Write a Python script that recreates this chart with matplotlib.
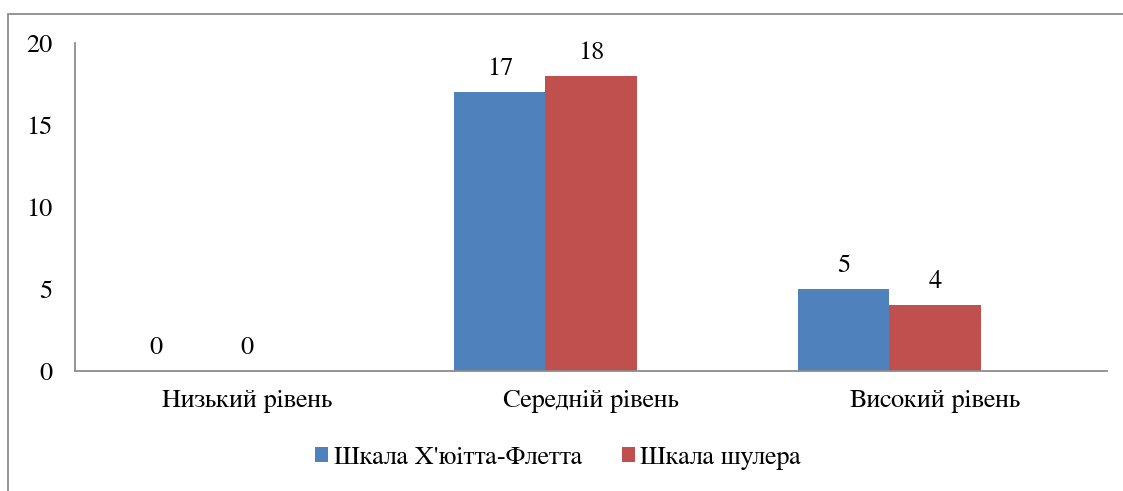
import matplotlib
matplotlib.use("Agg")
import matplotlib.pyplot as plt
import numpy as np
from matplotlib.patches import Rectangle
from matplotlib import font_manager as fm

categories = ["Низький рівень", "Середній рівень", "Високий рівень"]
series_names = ["Шкала Х'юітта-Флетта", "Шкала шулера"]
hewitt = [0, 17, 5]
shuler = [0, 18, 4]
colors = ["#4F81BD", "#C0504D"]

FS = 19
path = None
for f in fm.fontManager.ttflist:
    if f.fname.endswith("FreeSerif.ttf"):
        path = f.fname
        break
if path is None:
    path = fm.findfont(fm.FontProperties(family=['Liberation Serif']))
FP = fm.FontProperties(fname=path, size=FS)

fig = plt.figure(figsize=(11.23, 4.91), dpi=100)
W, H = 1123, 491
ax = fig.add_axes([75 / W, 1 - 371 / H, (1107 - 75) / W, (371 - 43) / H])

x = np.arange(len(categories))
bw = 0.265
b1 = ax.bar(x - bw, hewitt, bw, color=colors[0], label=series_names[0])
b2 = ax.bar(x, shuler, bw, color=colors[1], label=series_names[1])
for bars, vals in ((b1, hewitt), (b2, shuler)):
    for r, v in zip(bars, vals):
        ax.annotate(str(v), (r.get_x() + r.get_width() / 2, v), xytext=(0, 12.2),
                    textcoords="offset points", ha="center", va="baseline",
                    fontproperties=FP)

ax.set_xlim(-0.5, 2.5)
ax.set_ylim(0, 20)
ax.set_yticks([0, 5, 10, 15, 20])
ax.set_yticklabels(["0", "5", "10", "15", "20"], fontproperties=FP)
ax.set_xticks(x)
ax.set_xticklabels(categories, fontproperties=FP)
ax.tick_params(axis="both", length=0)
ax.tick_params(axis="y", pad=16.5)
ax.tick_params(axis="x", pad=13)
for s in ("top", "right"):
    ax.spines[s].set_visible(False)
for s in ("left", "bottom"):
    ax.spines[s].set_color("#8C8C8C")
    ax.spines[s].set_linewidth(1.3)

leg = fig.legend(loc="center", bbox_to_anchor=(558 / W, 1 - 458 / H), ncol=2, frameon=False,
                 prop=FP, handlelength=0.5, handleheight=0.5,
                 handletextpad=0.2, columnspacing=1.5)

fig.patches.append(Rectangle((8 / W, -0.1), 1.2, 1 - 14 / H + 0.1, transform=fig.transFigure,
                             fill=False, edgecolor="#8C8C8C", linewidth=1.3))

fig.savefig("out.png", dpi=100)
